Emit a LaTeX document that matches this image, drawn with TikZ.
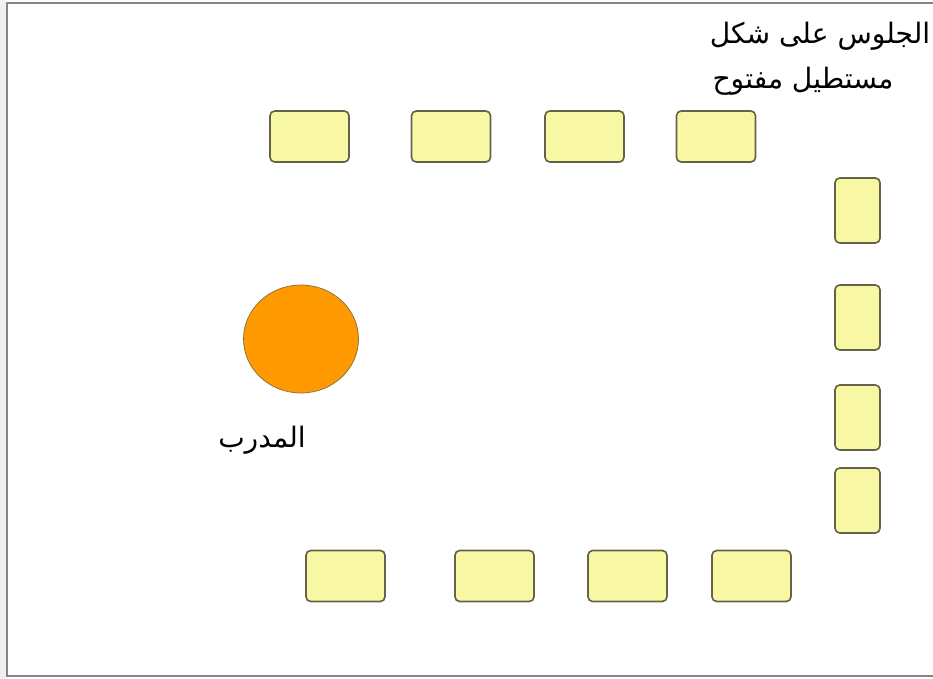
\documentclass[tikz,border=0pt]{standalone}
\usepackage{fontspec}
\usepackage{xcolor}
\usepackage{tikz}
\usetikzlibrary{shapes.geometric}
\TeXXeTstate=1
\newfontfamily\arabicfont[Script=Arabic]{DejaVu Sans}
\definecolor{chairFill}{HTML}{F8F8A4}
\definecolor{chairEdge}{HTML}{66624A}
\definecolor{trainerColor}{HTML}{FF9900}
\definecolor{frameColor}{HTML}{858585}

\begin{document}
\begin{tikzpicture}[x=0.03cm, y=-0.03cm,
    chairh/.style={draw=chairEdge, fill=chairFill, line width=1.4pt,
        rounded corners=4pt, minimum width=2.37cm, minimum height=1.53cm, inner sep=0pt},
    chairv/.style={chairh, minimum width=1.35cm, minimum height=1.95cm},
    label/.style={font=\arabicfont\fontsize{24}{28}\selectfont, inner sep=0pt}]
    \useasboundingbox (0,0) rectangle (933,679);
    \fill[gray!12] (0,0) rectangle (6,679);
    % frame, open on the right
    \draw[frameColor, line width=1.6pt] (933,3) -- (7,3) -- (7,676) -- (933,676);
    % chairs along the top
    \foreach \x [count=\i] in {309.5,451,584.5,716}
        \node[chairh] (top\i) at (\x,136.5) {};
    % chairs down the right side
    \foreach \y [count=\i] in {210.5,317.5,417.5,500.5}
        \node[chairv] (right\i) at (857.5,\y) {};
    % chairs along the bottom
    \foreach \x [count=\i] in {345.5,494.5,627.5,751.5}
        \node[chairh] (bottom\i) at (\x,576) {};
    % trainer
    \node[draw=chairEdge!80!trainerColor, fill=trainerColor, ellipse, line width=0.6pt,
        minimum width=3.45cm, minimum height=3.24cm, inner sep=0pt] (trainer) at (301,339) {};
    \node[label] (trainerlabel) at (262,440) {\beginR المدرب\endR};
    \node[label] (title1) at (820,36) {\beginR الجلوس على شكل\endR};
    \node[label] (title2) at (803,81) {\beginR مستطيل مفتوح\endR};
\end{tikzpicture}
\end{document}
